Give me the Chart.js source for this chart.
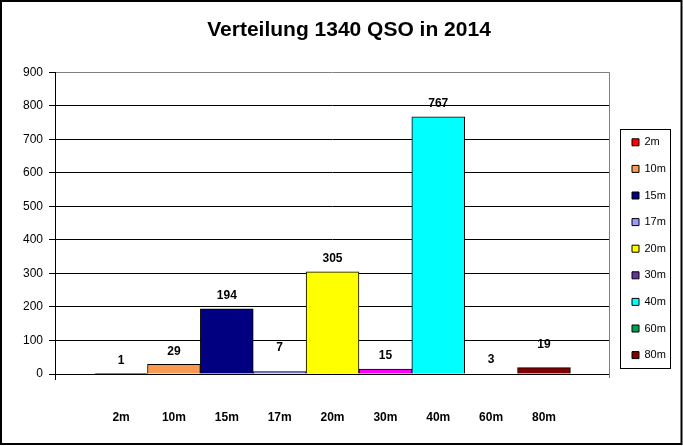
<!DOCTYPE html>
<html>
<head>
<meta charset="utf-8">
<title>Verteilung 1340 QSO in 2014</title>
<script src="https://cdn.jsdelivr.net/npm/chart.js@4/dist/chart.umd.min.js"></script>
<style>
  html, body { margin: 0; padding: 0; background: #fff; }
  canvas { display: block; }
</style>
</head>
<body>
<canvas id="qsoChart" width="683" height="446"></canvas>
<script>
// Baender und Anzahl QSO
const bands = ["2m", "10m", "15m", "17m", "20m", "30m", "40m", "60m", "80m"];
const qsoCounts = [1, 29, 194, 7, 305, 15, 767, 3, 19];
const yTicks = [0, 100, 200, 300, 400, 500, 600, 700, 800, 900];

// Farben (Balken und Legende weichen bei 30m/60m ab, wie im Original)
const barColors = ["#FF0000", "#FA9A50", "#000080", "#9999FF", "#FFFF00", "#FF00FF", "#00FFFF", "rgba(0,0,0,0)", "#7F0000"];
const legendColors = ["#FF0000", "#FA9A50", "#000080", "#9999FF", "#FFFF00", "#663399", "#00FFFF", "#00A050", "#7F0000"];

const FONT = "'Liberation Sans', Arial, sans-serif";

// Werte-Beschriftung ueber den Balken (7 und 19 etwas hoeher verschoben)
const labelLift = { 3: 11, 8: 10 };

const valueLabels = {
    id: "valueLabels",
    afterDatasetsDraw(chart) {
        const ctx = chart.ctx;
        const meta = chart.getDatasetMeta(0);
        ctx.save();
        ctx.font = "bold 12px " + FONT;
        ctx.fillStyle = "#000";
        ctx.textAlign = "center";
        ctx.textBaseline = "middle";
        meta.data.forEach((bar, i) => {
            const lift = 13 + (labelLift[i] || 0);
            ctx.fillText(String(qsoCounts[i]), bar.x, bar.y - lift);
        });
        ctx.restore();
    }
};

// Hintergrund, Rahmen, Legendenkasten
const frame = {
    id: "frame",
    beforeDraw(chart) {
        const ctx = chart.ctx;
        ctx.save();
        ctx.fillStyle = "#fff";
        ctx.fillRect(0, 0, chart.width, chart.height);
        ctx.restore();
    },
    afterLayout(chart) {
        // Titel wie im Original leicht nach rechts versetzt
        const tb = chart.titleBlock;
        tb.left = 0;
        tb.right = 698;
        tb.width = 698;
        // Legende rechts neben die Zeichenflaeche setzen (Eintraege mittig um "mid")
        const lg = chart.legend;
        const area = chart.chartArea;
        const mid = area.top + 176.5;
        lg.left = area.right + 7.4;
        lg.right = lg.left + 60;
        lg.width = 60;
        lg.top = mid - 160;
        lg.bottom = mid + 160;
        lg.height = 320;
    },
    afterDraw(chart) {
        const ctx = chart.ctx;
        const a = chart.chartArea;
        ctx.save();
        // rechte Begrenzung der Zeichenflaeche
        ctx.strokeStyle = "#808080";
        ctx.lineWidth = 1;
        ctx.beginPath();
        ctx.moveTo(Math.round(a.right) + 0.5, a.top);
        ctx.lineTo(Math.round(a.right) + 0.5, a.bottom + 4);
        ctx.stroke();
        ctx.strokeStyle = "#000";
        ctx.beginPath();
        ctx.moveTo(Math.round(a.left) + 0.5, a.bottom);
        ctx.lineTo(Math.round(a.left) + 0.5, a.bottom + 6);
        ctx.stroke();
        // Legendenkasten
        const mid = a.top + 176.5;
        ctx.strokeRect(Math.round(a.right + 11) + 0.5, Math.round(mid - 119.5) + 0.5, 50, 239);
        // Aussenrahmen
        ctx.lineWidth = 2;
        ctx.strokeRect(1, 1, chart.width - 2.5, chart.height - 3);
        ctx.restore();
    }
};

const ctx = document.getElementById("qsoChart").getContext("2d");

new Chart(ctx, {
    type: "bar",
    data: {
        datasets: [{
            label: "QSO",
            data: bands.map((b, i) => ({ x: i, y: qsoCounts[i] })),
            backgroundColor: barColors,
            borderColor: bands.map((b, i) => i === 7 ? "rgba(0,0,0,0)" : "#000"),
            borderWidth: 1,
            barPercentage: 1,
            categoryPercentage: 1
        }]
    },
    options: {
        responsive: false,
        devicePixelRatio: 1,
        animation: false,
        layout: { padding: { left: 14, right: 73, top: 0, bottom: 0 } },
        scales: {
            x: {
                type: "linear",
                offset: false,
                bounds: "data",
                min: -1.25,
                max: bands.length - 1 + 1.23,
                afterBuildTicks(scale) {
                    scale.ticks = bands.map((b, i) => ({ value: i }));
                },
                afterFit(scale) { scale.height = 72; },
                grid: { display: false, drawTicks: false, offset: false },
                border: { display: true, color: "#000", width: 1 },
                ticks: {
                    autoSkip: false,
                    maxRotation: 0,
                    padding: 36,
                    color: "#000",
                    font: { family: FONT, size: 12, weight: "bold" },
                    callback: (v) => bands[v]
                }
            },
            y: {
                min: 0,
                max: 900,
                afterBuildTicks(scale) {
                    scale.ticks = yTicks.map(v => ({ value: v }));
                },
                afterFit(scale) { scale.width = 41; },
                grid: {
                    color: (c) => c.tick && c.tick.value === 900 ? "#808080" : "#000",
                    tickColor: "#000",
                    tickLength: 6,
                    lineWidth: 1
                },
                border: { display: true, color: "#000", width: 1 },
                ticks: {
                    padding: 6,
                    color: "#000",
                    font: { family: FONT, size: 12 }
                }
            }
        },
        plugins: {
            title: {
                display: true,
                text: "Verteilung 1340 QSO in 2014",
                color: "#000",
                font: { family: FONT, size: 21, weight: "bold" },
                padding: { top: 18, bottom: 29 }
            },
            legend: {
                position: "right",
                maxWidth: 1,
                labels: {
                    boxWidth: 7,
                    boxHeight: 7,
                    padding: 15.6,
                    color: "#000",
                    font: { family: FONT, size: 11 },
                    generateLabels: () => bands.map((b, i) => ({
                        text: b,
                        fillStyle: legendColors[i],
                        strokeStyle: "#000",
                        lineWidth: 1,
                        hidden: false,
                        index: i
                    }))
                }
            },
            tooltip: { enabled: false }
        }
    },
    plugins: [valueLabels, frame]
});
</script>
</body>
</html>
